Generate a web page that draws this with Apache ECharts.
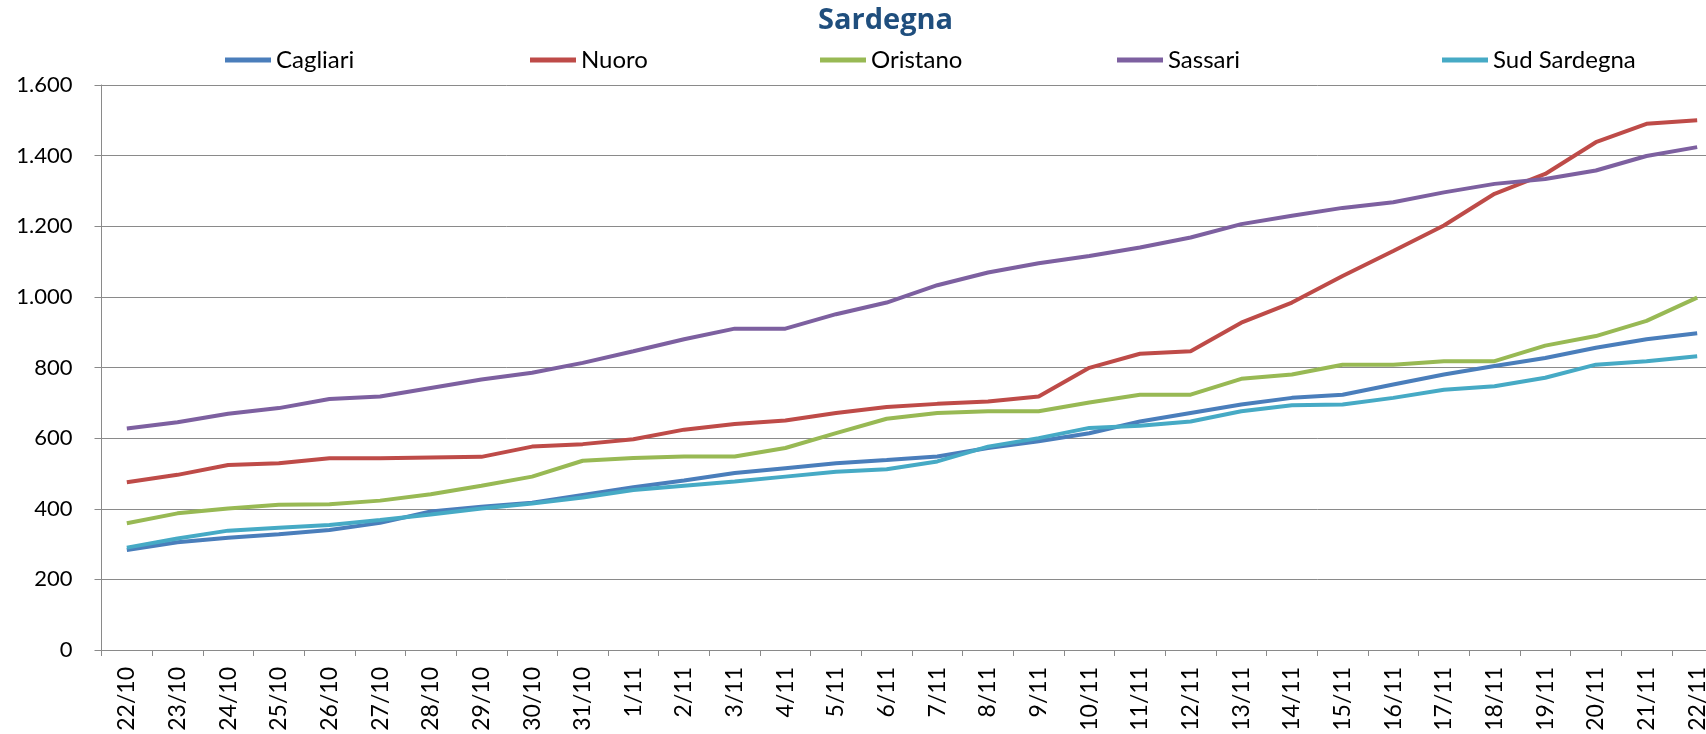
<!DOCTYPE html>
<html>
<head>
<meta charset="utf-8">
<script src="https://cdn.jsdelivr.net/npm/echarts@6/dist/echarts.min.js"></script>
<style>
html,body{margin:0;padding:0;background:#fff;overflow:hidden;width:1706px;height:734px;}
#chart{width:1730px;height:734px;}
</style>
</head>
<body>
<div id="chart"></div>
<script>
const categories = ['22/10','23/10','24/10','25/10','26/10','27/10','28/10','29/10','30/10','31/10',
  '1/11','2/11','3/11','4/11','5/11','6/11','7/11','8/11','9/11','10/11','11/11','12/11','13/11',
  '14/11','15/11','16/11','17/11','18/11','19/11','20/11','21/11','22/11'];
const seriesNames = ['Cagliari','Nuoro','Oristano','Sassari','Sud Sardegna'];
const cagliari = [283,305,318,328,340,360,392,406,417,439,461,480,501,515,529,538,548,572,591,614,647,671,695,714,723,752,780,804,827,856,880,897];
const nuoro = [475,496,524,529,543,543,545,547,576,583,597,624,640,650,671,688,697,704,718,799,839,846,927,984,1059,1130,1202,1292,1348,1438,1490,1500];
const oristano = [359,387,401,411,413,423,441,465,491,536,544,548,548,572,614,655,671,676,676,701,723,723,768,780,808,808,818,818,862,889,932,998];
const sassari = [627,645,669,685,711,718,742,766,785,813,846,880,910,910,951,984,1033,1069,1095,1116,1140,1168,1206,1230,1252,1268,1296,1320,1334,1358,1399,1424];
const sudSardegna = [290,316,338,346,354,368,384,401,415,432,453,465,477,491,505,512,534,576,600,629,635,647,676,693,695,714,737,747,771,808,818,832];
const yTicks = {min: 0, max: 1600, interval: 200};

const colors = ['#4A7EBB','#BE4B48','#98B954','#7D60A0','#46AAC5'];
const values = [cagliari, nuoro, oristano, sassari, sudSardegna];
const legendLefts = [225, 530, 820, 1117, 1442];

const fmt = v => v >= 1000 ? Math.floor(v/1000) + '.' + String(v % 1000).padStart(3,'0') : String(v);

const chart = echarts.init(document.getElementById('chart'), null, {renderer:'canvas'});
const FONT = 'Lato';
chart.setOption({
  backgroundColor: '#ffffff',
  animation: false,
  color: colors,
  title: {
    text: 'Sardegna',
    left: 818, top: 6, padding: 0,
    textStyle: {fontFamily: 'Open Sans', fontWeight: 'bold', fontSize: 29, color: '#1F4E7D'}
  },
  legend: seriesNames.map((n, i) => ({
    data: [n],
    left: legendLefts[i], top: 48, padding: 0,
    icon: 'rect', itemWidth: 46, itemHeight: 5,
    textStyle: {fontFamily: FONT, fontSize: 24, color: '#000'}
  })),
  grid: {left: 101.5, top: 85, width: 1621, height: 565, containLabel: false},
  xAxis: {
    type: 'category',
    data: categories,
    boundaryGap: true,
    axisLine: {lineStyle: {color: '#8a8a8a', width: 1}},
    axisTick: {show: true, length: 6, interval: 0, lineStyle: {color: '#8a8a8a'}},
    axisLabel: {rotate: 90, interval: 0, margin: 17, fontFamily: FONT, fontSize: 23, color: '#000'}
  },
  yAxis: {
    type: 'value',
    min: yTicks.min, max: yTicks.max, interval: yTicks.interval,
    axisLine: {show: true, lineStyle: {color: '#8a8a8a', width: 1}},
    axisTick: {show: true, length: 7, lineStyle: {color: '#8a8a8a'}},
    splitLine: {show: true, lineStyle: {color: '#8a8a8a', width: 1}},
    axisLabel: {margin: 29, fontFamily: FONT, fontSize: 22, color: '#000', formatter: fmt}
  },
  series: seriesNames.map((n, i) => ({
    name: n,
    type: 'line',
    data: values[i],
    symbol: 'none',
    smooth: false,
    lineStyle: {width: 4, color: colors[i]},
    itemStyle: {color: colors[i]}
  }))
});
</script>
</body>
</html>
